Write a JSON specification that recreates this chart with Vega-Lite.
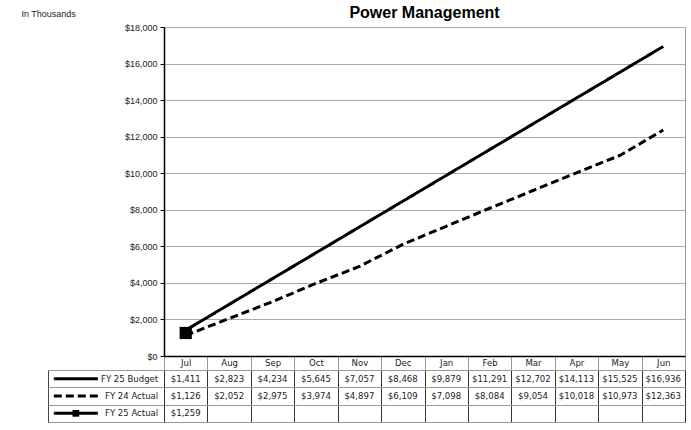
{
  "$schema": "https://vega.github.io/schema/vega-lite/v6.json",
  "datasets": {
    "table": [
      {"month": "Jul", "series": "FY 25 Budget", "value": 1411},
      {"month": "Aug", "series": "FY 25 Budget", "value": 2823},
      {"month": "Sep", "series": "FY 25 Budget", "value": 4234},
      {"month": "Oct", "series": "FY 25 Budget", "value": 5645},
      {"month": "Nov", "series": "FY 25 Budget", "value": 7057},
      {"month": "Dec", "series": "FY 25 Budget", "value": 8468},
      {"month": "Jan", "series": "FY 25 Budget", "value": 9879},
      {"month": "Feb", "series": "FY 25 Budget", "value": 11291},
      {"month": "Mar", "series": "FY 25 Budget", "value": 12702},
      {"month": "Apr", "series": "FY 25 Budget", "value": 14113},
      {"month": "May", "series": "FY 25 Budget", "value": 15525},
      {"month": "Jun", "series": "FY 25 Budget", "value": 16936},
      {"month": "Jul", "series": "FY 24 Actual", "value": 1126},
      {"month": "Aug", "series": "FY 24 Actual", "value": 2052},
      {"month": "Sep", "series": "FY 24 Actual", "value": 2975},
      {"month": "Oct", "series": "FY 24 Actual", "value": 3974},
      {"month": "Nov", "series": "FY 24 Actual", "value": 4897},
      {"month": "Dec", "series": "FY 24 Actual", "value": 6109},
      {"month": "Jan", "series": "FY 24 Actual", "value": 7098},
      {"month": "Feb", "series": "FY 24 Actual", "value": 8084},
      {"month": "Mar", "series": "FY 24 Actual", "value": 9054},
      {"month": "Apr", "series": "FY 24 Actual", "value": 10018},
      {"month": "May", "series": "FY 24 Actual", "value": 10973},
      {"month": "Jun", "series": "FY 24 Actual", "value": 12363},
      {"month": "Jul", "series": "FY 25 Actual", "value": 1259}
    ],
    "series": [
      {"series": "FY 25 Budget"},
      {"series": "FY 24 Actual"},
      {"series": "FY 25 Actual"}
    ]
  },
  "bounds": "flush",
  "columns": 2,
  "spacing": {"row": 14, "column": 0},
  "padding": {"left": 20, "top": 4, "right": 6, "bottom": 7},
  "config": {
    "font": "Liberation Sans",
    "view": {"stroke": null},
    "axis": {"labelFont": "Liberation Sans", "titleFont": "Liberation Sans"}
  },
  "concat": [
    {
      "width": 116,
      "height": 329,
      "data": {"values": [{"t": ""}]},
      "mark": {"type": "text", "opacity": 0},
      "encoding": {"text": {"field": "t"}},
      "view": {"stroke": null}
    },
    {
      "width": 521,
      "height": 329,
      "view": {"stroke": "#999", "strokeWidth": 1},
      "title": {
        "text": "Power Management",
        "fontSize": 16,
        "fontWeight": "bold",
        "font": "Liberation Sans",
        "color": "#000",
        "anchor": "middle",
        "offset": -12
      },
      "data": {"name": "table"},
      "encoding": {
        "x": {
          "field": "month",
          "type": "ordinal",
          "bandPosition": 0.5,
          "scale": {"type": "band", "domain": ["Jul","Aug","Sep","Oct","Nov","Dec","Jan","Feb","Mar","Apr","May","Jun"], "paddingInner": 0, "paddingOuter": 0},
          "axis": {
            "title": null,
            "labelAngle": 0,
            "tickBand": "extent",
            "tickSize": 14,
            "tickColor": "#999",
            "domainColor": "#000",
            "domainWidth": 1.5,
            "labelPadding": -13,
            "labelBaseline": "top",
            "labelFont": "DejaVu Sans Condensed, Liberation Sans, sans-serif",
            "labelFontSize": 9.5,
            "labelColor": "#222",
            "grid": false
          }
        },
        "y": {
          "field": "value",
          "type": "quantitative",
          "scale": {"domain": [0, 18000], "nice": false},
          "axis": {
            "values": [0,2000,4000,6000,8000,10000,12000,14000,16000,18000],
            "format": "$,.0f",
            "title": "In Thousands",
            "titleAngle": 0,
            "titleX": -143,
            "titleY": -14,
            "titleAlign": "left",
            "titleBaseline": "middle",
            "titleFontWeight": "normal",
            "titleFontSize": 9,
            "titleColor": "#222",
            "labelFontSize": 9,
            "labelColor": "#222",
            "labelPadding": 3,
            "tickSize": 4,
            "tickColor": "#000",
            "domainColor": "#000",
            "domainWidth": 1.5,
            "grid": true,
            "gridColor": "#aaa",
            "gridWidth": 1
          }
        }
      },
      "layer": [
        {
          "transform": [{"filter": "datum.series !== 'FY 25 Actual'"}],
          "mark": {"type": "line", "color": "#000", "strokeWidth": 3},
          "encoding": {
            "strokeDash": {
              "field": "series",
              "type": "nominal",
              "scale": {"domain": ["FY 25 Budget", "FY 24 Actual"], "range": [[1, 0], [8, 4]]},
              "legend": null
            }
          }
        },
        {
          "transform": [{"filter": "datum.series === 'FY 25 Actual'"}],
          "mark": {"type": "point", "shape": "square", "filled": true, "color": "#000", "opacity": 1, "size": 150}
        }
      ]
    },
    {
      "width": 116,
      "height": 52,
      "view": {"stroke": "#444", "strokeWidth": 1},
      "data": {"name": "series"},
      "encoding": {
        "y": {
          "field": "series",
          "type": "nominal",
          "bandPosition": 0.5,
          "scale": {"type": "band", "domain": ["FY 25 Budget", "FY 24 Actual", "FY 25 Actual"], "paddingInner": 0, "paddingOuter": 0},
          "axis": {"labels": false, "ticks": false, "domain": false, "title": null, "grid": true, "tickBand": "extent", "gridColor": "#999"}
        }
      },
      "layer": [
        {
          "mark": {"type": "rule", "color": "#000", "strokeWidth": 3},
          "encoding": {
            "x": {"datum": 0.05, "type": "quantitative", "scale": {"domain": [0, 1]}, "axis": null},
            "x2": {"datum": 0.43},
            "strokeDash": {
              "field": "series",
              "type": "nominal",
              "scale": {"domain": ["FY 25 Budget", "FY 24 Actual", "FY 25 Actual"], "range": [[1, 0], [7, 3], [1, 0]]},
              "legend": null
            }
          }
        },
        {
          "transform": [{"filter": "datum.series === 'FY 25 Actual'"}],
          "mark": {"type": "point", "shape": "square", "filled": true, "color": "#000", "opacity": 1, "size": 45},
          "encoding": {
            "x": {"datum": 0.24, "type": "quantitative", "scale": {"domain": [0, 1]}, "axis": null}
          }
        },
        {
          "mark": {"type": "text", "align": "right", "baseline": "middle", "font": "DejaVu Sans Condensed, Liberation Sans, sans-serif", "fontSize": 9.5, "color": "#222"},
          "encoding": {
            "x": {"datum": 0.95, "type": "quantitative", "scale": {"domain": [0, 1]}, "axis": null},
            "text": {"field": "series"}
          }
        }
      ]
    },
    {
      "width": 521,
      "height": 52,
      "view": {"stroke": "#444", "strokeWidth": 1},
      "data": {"name": "table"},
      "mark": {"type": "text", "align": "center", "baseline": "middle", "font": "DejaVu Sans Condensed, Liberation Sans, sans-serif", "fontSize": 9.5, "color": "#222"},
      "encoding": {
        "x": {
          "field": "month",
          "type": "ordinal",
          "bandPosition": 0.5,
          "scale": {"type": "band", "domain": ["Jul","Aug","Sep","Oct","Nov","Dec","Jan","Feb","Mar","Apr","May","Jun"], "paddingInner": 0, "paddingOuter": 0},
          "axis": {"orient": "top", "labels": false, "ticks": false, "domain": false, "title": null, "grid": true, "tickBand": "extent", "gridColor": "#333"}
        },
        "y": {
          "field": "series",
          "type": "nominal",
          "bandPosition": 0.5,
          "scale": {"type": "band", "domain": ["FY 25 Budget", "FY 24 Actual", "FY 25 Actual"], "paddingInner": 0, "paddingOuter": 0},
          "axis": {"labels": false, "ticks": false, "domain": false, "title": null, "grid": true, "tickBand": "extent", "gridColor": "#999"}
        },
        "text": {"field": "value", "type": "quantitative", "format": "$,.0f"}
      }
    }
  ]
}
